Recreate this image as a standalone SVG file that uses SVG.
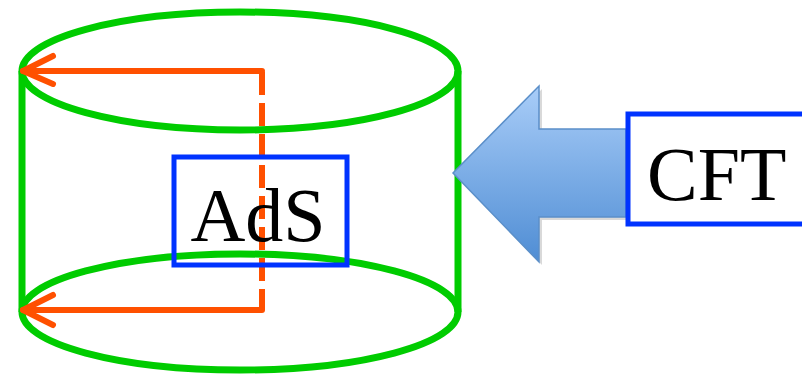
<svg xmlns="http://www.w3.org/2000/svg" width="802" height="375" viewBox="0 0 802 375">
<defs>
<linearGradient id="bg" x1="0" y1="0" x2="0" y2="1">
<stop offset="0" stop-color="#A9CDF8"/>
<stop offset="1" stop-color="#4F8DD4"/>
</linearGradient>
<style>
.cyl{fill:none;stroke:#00CC00;stroke-width:7}
.red{fill:none;stroke:#FF5000;stroke-width:6;stroke-linecap:round;stroke-linejoin:round}
.box{fill:none;stroke:#0033FF;stroke-width:5}
.lbl{font-family:"Liberation Serif","Times New Roman",serif;font-size:76px;fill:#000}
</style>
</defs>
<g id="cylinder">
<ellipse class="cyl" cx="240" cy="71" rx="218" ry="59"/>
<ellipse class="cyl" cx="240" cy="312" rx="218" ry="58"/>
<line class="cyl" x1="22" y1="71" x2="22" y2="312"/>
<line class="cyl" x1="458" y1="71" x2="458" y2="312"/>
</g>
<g id="connectors">
<polyline class="red" points="262,71 23,71"/>
<polyline class="red" points="53,56 23,71 53,84"/>
<line x1="262" y1="72" x2="262" y2="310" stroke="#FF5000" stroke-width="6" stroke-dasharray="23,8"/>
<polyline class="red" points="262,310 23,310"/>
<polyline class="red" points="53,295 23,310 53,325"/>
</g>
<g id="bigarrow">
<polygon points="456,176 542,89 542,132 629,132 629,220 542,220 542,265" fill="#000" opacity="0.15"/>
<polygon points="453,173 539,86 539,129 626,129 626,217 539,217 539,262" fill="url(#bg)" stroke="#5B8FC9" stroke-width="1.5"/>
</g>
<g id="AdS">
<rect class="box" x="174" y="157" width="173" height="108"/>
<text class="lbl" x="258" y="241" text-anchor="middle">AdS</text>
</g>
<g id="CFT">
<rect x="628" y="114" width="190" height="110" fill="#fff" stroke="#0033FF" stroke-width="5"/>
<text class="lbl" x="647" y="200">CFT</text>
</g>
</svg>
